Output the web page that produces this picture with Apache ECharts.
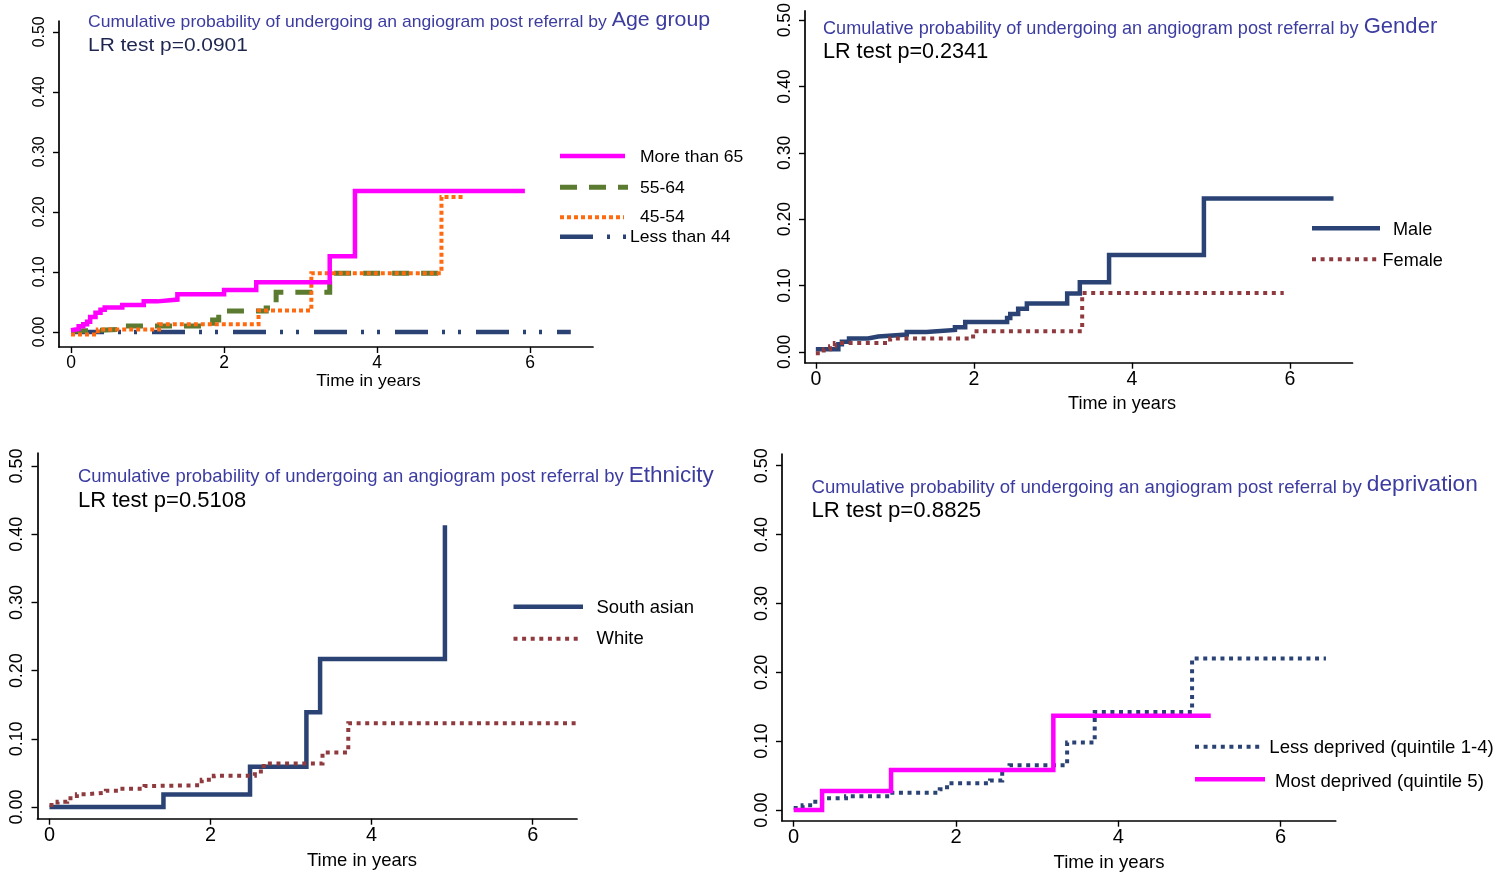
<!DOCTYPE html>
<html><head><meta charset="utf-8">
<script src="https://cdn.jsdelivr.net/npm/echarts@6/dist/echarts.min.js"></script>
<style>html,body{margin:0;padding:0;background:#fff}#c{width:1499px;height:874px}</style>
</head><body><div id="c"></div>
<script>
// ---------- data ----------
const xTicks = [0, 2, 4, 6];
const yTicks = [0, 0.1, 0.2, 0.3, 0.4, 0.5];

// Panel 1: Age group
const tOver65 = [0, 0.026, 0.10, 0.16, 0.21, 0.25, 0.32, 0.385, 0.44, 0.67, 0.95, 1.13, 1.39, 2.0, 2.42, 3.38, 3.71, 5.93];
const vOver65 = [0.003, 0.005, 0.0096, 0.013, 0.017, 0.025, 0.032, 0.037, 0.041, 0.045, 0.051, 0.054, 0.063, 0.070, 0.083, 0.126, 0.235, 0.235];
const t5564 = [0, 0.25, 0.75, 1.85, 1.93, 2.55, 2.68, 3.38, 4.85];
const v5564 = [0.002, 0.005, 0.01, 0.02, 0.035, 0.04, 0.066, 0.098, 0.098];
const t4554 = [0, 0.35, 1.15, 2.45, 3.14, 4.84, 5.13];
const v4554 = [-0.004, 0.004, 0.013, 0.036, 0.098, 0.225, 0.225];
const tUnder44 = [0, 6.53];
const vUnder44 = [0, 0];

// Panel 2: Gender
const tMale = [0, 0.285, 0.33, 0.42, 0.66, 0.79, 1.15, 1.40, 1.76, 1.89, 2.42, 2.46, 2.56, 2.67, 3.18, 3.34, 3.71, 4.91, 6.55];
const vMale = [0.004, 0.0115, 0.015, 0.02, 0.023, 0.026, 0.030, 0.033, 0.037, 0.045, 0.051, 0.057, 0.065, 0.073, 0.088, 0.105, 0.146, 0.231, 0.231];
const tFemale = [0, 0.10, 0.18, 0.24, 0.94, 1.99, 3.37, 5.92];
const vFemale = [-0.002, 0.004, 0.0085, 0.0134, 0.02, 0.031, 0.0885, 0.0885];

// Panel 3: Ethnicity
const tSouthAsian = [0, 1.415, 2.49, 3.19, 3.36, 4.91];
const vSouthAsian = [0, 0.0186, 0.059, 0.139, 0.217, 0.413];
const tWhite = [0, 0.10, 0.22, 0.34, 0.46, 0.70, 0.88, 1.18, 1.30, 1.89, 2.04, 2.55, 2.66, 3.39, 3.71, 6.55];
const vWhite = [0.003, 0.008, 0.013, 0.019, 0.021, 0.024, 0.027, 0.031, 0.032, 0.04, 0.046, 0.052, 0.064, 0.08, 0.123, 0.123];

// Panel 4: deprivation
const tLessDep = [0, 0.11, 0.23, 0.35, 0.645, 1.18, 1.8, 1.89, 2.42, 2.57, 2.66, 3.37, 3.71, 4.91, 6.56];
const vLessDep = [0.003, 0.007, 0.012, 0.017, 0.02, 0.025, 0.03, 0.039, 0.043, 0.058, 0.065, 0.098, 0.1425, 0.22, 0.22];
const tMostDep = [0, 0.35, 1.2, 3.2, 5.14];
const vMostDep = [0, 0.0275, 0.058, 0.137, 0.137];

const panelTitles = ['Age group', 'Gender', 'Ethnicity', 'deprivation'];
const pValues = ['0.0901', '0.2341', '0.5108', '0.8825'];
const legendAge = ['More than 65', '55-64', '45-54', 'Less than 44'];
const legendGender = ['Male', 'Female'];
const legendEth = ['South asian', 'White'];
const legendDep = ['Less deprived (quintile 1-4)', 'Most deprived (quintile 5)'];

// ---------- styles ----------
const FONT = 'Liberation Sans, Arial, Helvetica, sans-serif';
const SX = 1.09;
// per-panel text scale (vertical / horizontal), panel 1 = base
const FY = [1, 1.118, 1.137, 1.148];
const FX = [1, 1.033, 1.052, 1.061];
const TITLE_C = '#3c3ca0';
const NAVY = '#2a4374';
const MAROON = '#8e3a3e';
const MAGENTA = '#ff00ff';
const GREEN = '#5b7b31';
const ORANGE = '#ff6a10';

const styles = {
  solidMag: {color: MAGENTA, width: 4.5, type: 'solid'},
  solidNavy: {color: NAVY, width: 4.5, type: 'solid'},
  dashGreen: {color: GREEN, width: 5, type: [17, 12]},
  dotOrange: {color: ORANGE, width: 4, type: [4, 3]},
  dashDotNavy: {color: NAVY, width: 4.5, type: [33, 14, 3, 13, 3, 15]},
  dotMaroon: {color: MAROON, width: 4, type: [4, 4.6]},
  dotNavy: {color: NAVY, width: 4, type: [4, 4.6]}
};

function pts(t, v) { return t.map((x, i) => [x, v[i]]); }

const grids = [
  {left: 59, top: 21, width: 534, height: 326},
  {left: 805, top: 7, width: 547.5, height: 355.7},
  {left: 37.5, top: 453, width: 539.5, height: 365.7},
  {left: 782, top: 454, width: 553.7, height: 366.7}
];
const xr = [[-0.157, 6.82], [-0.137, 6.79], [-0.149, 6.55], [-0.144, 6.68]];
const yr = [[-0.025, 0.518], [-0.0164, 0.514], [-0.017, 0.519], [-0.0155, 0.517]];

const axLine = {show: true, onZero: false, lineStyle: {color: '#000', width: 1.7}};
const xAxis = grids.map((g, i) => ({
  type: 'value', gridIndex: i, min: xr[i][0], max: xr[i][1],
  axisLine: axLine,
  axisTick: {show: true, length: 6, customValues: xTicks, lineStyle: {color: '#000', width: 1.4}},
  axisLabel: {customValues: xTicks, color: '#000', fontSize: 17.5 * FY[i], fontFamily: FONT, margin: 7},
  splitLine: {show: false}
}));
const yAxis = grids.map((g, i) => ({
  type: 'value', gridIndex: i, min: yr[i][0], max: yr[i][1],
  axisLine: axLine,
  axisTick: {show: true, length: 6, customValues: yTicks, lineStyle: {color: '#000', width: 1.4}},
  axisLabel: {customValues: yTicks, color: '#000', fontSize: 15.8 * FY[i], fontFamily: FONT, rotate: 90, margin: 11,
    formatter: v => v.toFixed(2)},
  splitLine: {show: false}
}));

function ser(i, t, v, st) {
  return {type: 'line', xAxisIndex: i, yAxisIndex: i, step: 'end', showSymbol: false, silent: true,
    data: pts(t, v), lineStyle: Object.assign({cap: 'butt', join: 'miter'}, st)};
}
const series = [
  ser(0, tUnder44, vUnder44, styles.dashDotNavy),
  ser(0, t5564, v5564, styles.dashGreen),
  ser(0, t4554, v4554, styles.dotOrange),
  ser(0, tOver65, vOver65, styles.solidMag),
  ser(1, tMale, vMale, styles.solidNavy),
  ser(1, tFemale, vFemale, styles.dotMaroon),
  ser(2, tSouthAsian, vSouthAsian, styles.solidNavy),
  ser(2, tWhite, vWhite, styles.dotMaroon),
  ser(3, tLessDep, vLessDep, styles.dotNavy),
  ser(3, tMostDep, vMostDep, styles.solidMag)
];

// ---------- text / legend graphics ----------
const graphic = [];
function txt(p, x, y, s, size, color, align) {
  graphic.push({type: 'text', x: x, y: y, scaleX: SX * FX[p] / FY[p], silent: true,
    style: {text: s, fontSize: size * FY[p], fontFamily: FONT, fill: color, align: align || 'left', verticalAlign: 'middle'}});
}
const titlePos = [[88, 21, 46, '#1e2650'], [823, 27, 52, '#000'], [78, 475, 500.5, '#000'], [811.5, 485, 510.5, '#000']];
titlePos.forEach((p, i) => {
  const f = FY[i];
  graphic.push({type: 'text', x: p[0], y: p[1], scaleX: SX * FX[i] / f, silent: true,
    style: {text: '{a|Cumulative probability of undergoing an angiogram post referral by }{b|' + panelTitles[i] + '}',
      fontFamily: FONT, fill: TITLE_C, verticalAlign: 'middle',
      rich: {a: {fontSize: 16.1 * f, fontFamily: FONT, fill: TITLE_C, lineHeight: 17 * f, verticalAlign: 'bottom'},
             b: {fontSize: 19.6 * f, fontFamily: FONT, fill: TITLE_C, lineHeight: 20 * f, verticalAlign: 'bottom'}}}});
  txt(i, p[0], p[2], 'LR test p=' + pValues[i], 19.2, p[3]);
});
// axis names
[[368.5, 382], [1122, 404], [362, 861], [1109, 863]].forEach((p, i) => txt(i, p[0], p[1], 'Time in years', 16.1, '#000', 'center'));

function leg(p, x1, x2, y, st, label, tx, ty) {
  graphic.push({type: 'line', silent: true, shape: {x1: x1, y1: y, x2: x2, y2: y},
    style: {stroke: st.color, lineWidth: st.width, lineDash: st.type === 'solid' ? null : st.type, lineCap: 'butt'}});
  txt(p, tx, ty, label, 16.1, '#000');
}
leg(0, 560, 625, 156, styles.solidMag, legendAge[0], 640, 158);
leg(0, 560, 628, 187.3, styles.dashGreen, legendAge[1], 640, 188.5);
leg(0, 560, 624, 217.3, styles.dotOrange, legendAge[2], 640, 217.5);
leg(0, 560, 626, 236.7, styles.dashDotNavy, legendAge[3], 630, 238);
leg(1, 1312, 1380, 228.3, styles.solidNavy, legendGender[0], 1393, 230);
leg(1, 1312, 1377, 259.3, styles.dotMaroon, legendGender[1], 1382.5, 260.7);
leg(2, 513.5, 583, 606.7, styles.solidNavy, legendEth[0], 596.5, 607.7);
leg(2, 513.5, 580, 638.7, styles.dotMaroon, legendEth[1], 596.5, 639.3);
leg(3, 1195, 1262, 746.7, styles.dotNavy, legendDep[0], 1269.3, 748);
leg(3, 1195, 1265, 779.3, styles.solidMag, legendDep[1], 1275, 781.7);

const chart = echarts.init(document.getElementById('c'), null, {renderer: 'canvas'});
chart.setOption({
  animation: false, backgroundColor: '#fff',
  grid: grids, xAxis: xAxis, yAxis: yAxis, series: series, graphic: graphic
});
</script></body></html>
